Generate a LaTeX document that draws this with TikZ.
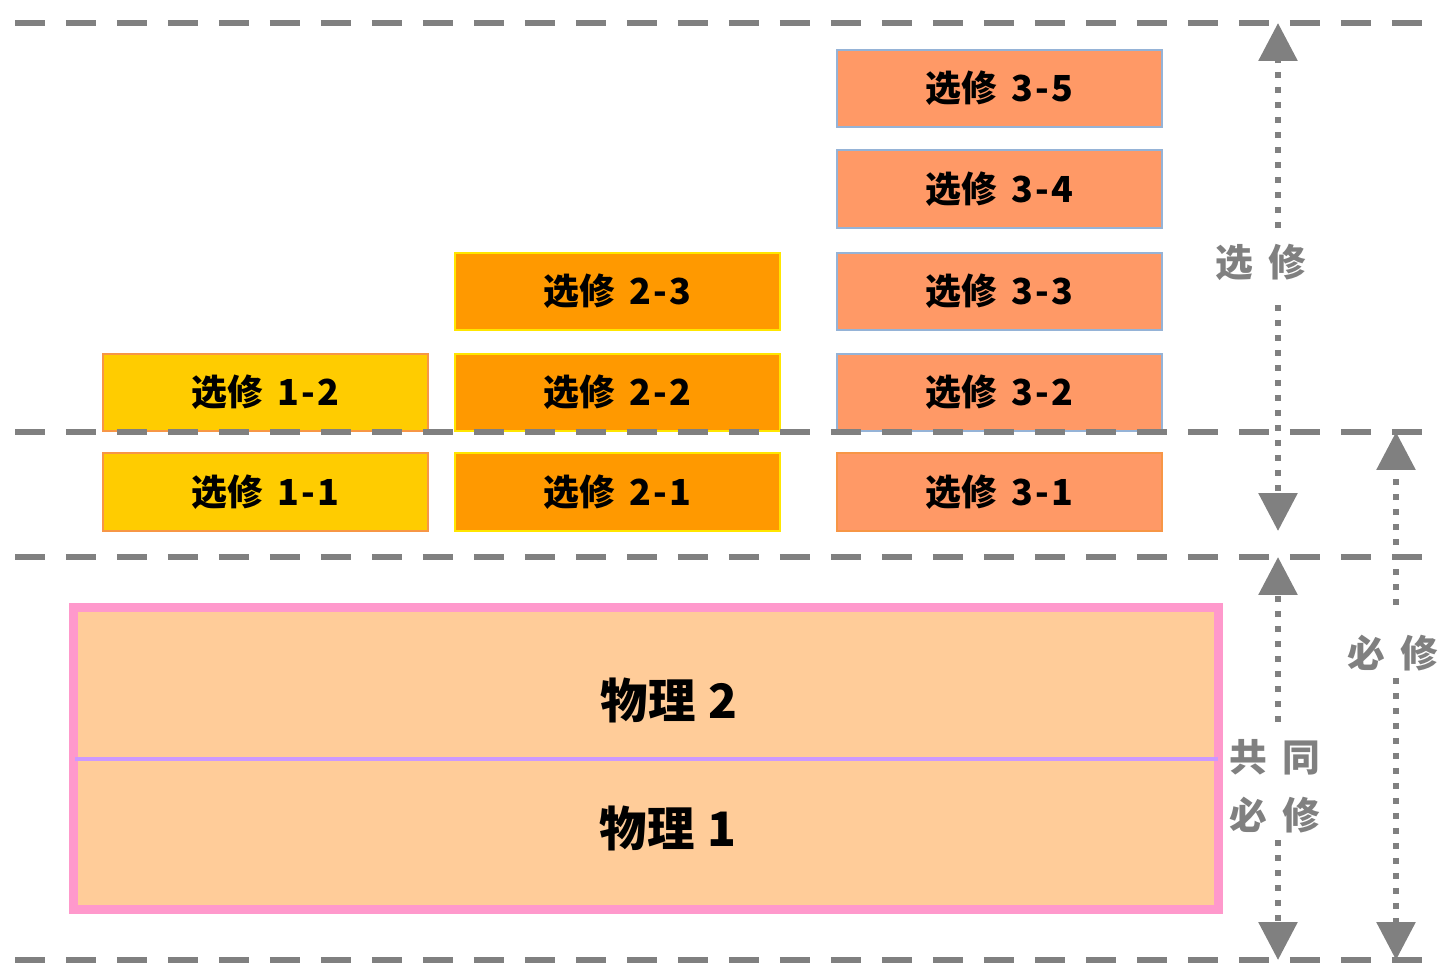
\documentclass[tikz,border=0pt]{standalone}
\usepackage{fontspec}
\newfontfamily\cjk{Noto Sans CJK SC}
\usetikzlibrary{arrows.meta}
\definecolor{linegray}{HTML}{808080}
\definecolor{fillA}{HTML}{FFCC00}
\definecolor{edgeA}{HTML}{F79646}
\definecolor{fillB}{HTML}{FF9900}
\definecolor{edgeB}{HTML}{FFE600}
\definecolor{fillC}{HTML}{FF9966}
\definecolor{edgeC}{HTML}{95B3D7}
\definecolor{physfill}{HTML}{FFCC99}
\definecolor{physedge}{HTML}{FF99CC}
\definecolor{physdiv}{HTML}{CC99FF}
\newcommand{\crs}[2]{选修\hspace{0.28cm}#1\hspace{0.04cm}-\hspace{0.04cm}#2}
\tikzset{
  course/.style={draw, line width=0.04cm, minimum width=6.5cm, minimum height=1.55cm, inner sep=0pt,
    font=\cjk\bfseries\fontsize{20.4}{22}\selectfont},
  cA/.style={course, fill=fillA, draw=edgeA},
  cB/.style={course, fill=fillB, draw=edgeB},
  cC/.style={course, fill=fillC, draw=edgeC},
  level/.style={draw=linegray, line width=0.12cm, dash pattern=on 0.6cm off 0.42cm},
  span/.style={draw=linegray, line width=0.12cm, dash pattern=on 0.12cm off 0.18cm},
  spanarrow/.style={span, -{Triangle[length=0.76cm,width=0.76cm,fill=linegray]}},
  lab/.style={text=linegray, font=\cjk\bfseries\fontsize{21.5}{33}\selectfont, inner sep=0pt, align=center},
  phystext/.style={font=\cjk\bfseries\fontsize{27}{30}\selectfont, inner sep=0pt}
}
\begin{document}
\begin{tikzpicture}[x=0.02cm,y=-0.02cm]
\useasboundingbox (0,0) rectangle (1446,963);
% physics block
\node[draw=physedge, fill=physfill, line width=0.18cm, outer sep=0pt, minimum width=22.9cm, minimum height=6.04cm, inner sep=0pt, anchor=north west] (phys) at (73.5,607.5) {};
\coordinate (divL) at (75,759);
\coordinate (divR) at (1218,759);
\draw[physdiv, line width=0.08cm] (divL) -- (divR);
\node[phystext] (p2) at (669,700) {物理\hspace{0.25cm}2};
\node[phystext] (p1) at (668,828) {物理\hspace{0.25cm}1};
% course boxes
\node[cC] (c35) at (999.5,88.5) {\crs{3}{5}};
\node[cC] (c34) at (999.5,189) {\crs{3}{4}};
\node[cC] (c33) at (999.5,291.5) {\crs{3}{3}};
\node[cC] (c32) at (999.5,392.5) {\crs{3}{2}};
\node[cC, draw=edgeA] (c31) at (999.5,492) {\crs{3}{1}};
\node[cB] (c23) at (617.5,291.5) {\crs{2}{3}};
\node[cB] (c22) at (617.5,392.5) {\crs{2}{2}};
\node[cB] (c21) at (617.5,492) {\crs{2}{1}};
\node[cA] (c12) at (265.5,392.5) {\crs{1}{2}};
\node[cA] (c11) at (265.5,492) {\crs{1}{1}};
% level lines
\coordinate (l0a) at (15,23);  \coordinate (l0b) at (1440,23);
\coordinate (l1a) at (15,432); \coordinate (l1b) at (1440,432);
\coordinate (l2a) at (15,557); \coordinate (l2b) at (1440,557);
\coordinate (l3a) at (15,960); \coordinate (l3b) at (1440,960);
\draw[level] (l0a) -- (l0b);
\draw[level] (l1a) -- (l1b);
\draw[level] (l2a) -- (l2b);
\draw[level] (l3a) -- (l3b);
% span arrows
\coordinate (s1t) at (1278,23);
\coordinate (s1b) at (1278,531);
\node[lab] (xl) at (1261,262) {选\hspace{0.3cm}修};
\draw[spanarrow] (1278,228) -- (s1t);
\draw[spanarrow] (1278,305) -- (s1b);
\coordinate (s2t) at (1278,557);
\coordinate (s2b) at (1278,960);
\node[lab] (gl) at (1275,786) {共\hspace{0.3cm}同\\必\hspace{0.3cm}修};
\draw[spanarrow] (1278,722) -- (s2t);
\draw[spanarrow] (1278,840) -- (s2b);
\coordinate (s3t) at (1396,432);
\coordinate (s3b) at (1396,960);
\node[lab] (bl) at (1393,653) {必\hspace{0.3cm}修};
\draw[spanarrow] (1396,605) -- (s3t);
\draw[spanarrow] (1396,678) -- (s3b);
\end{tikzpicture}
\end{document}
